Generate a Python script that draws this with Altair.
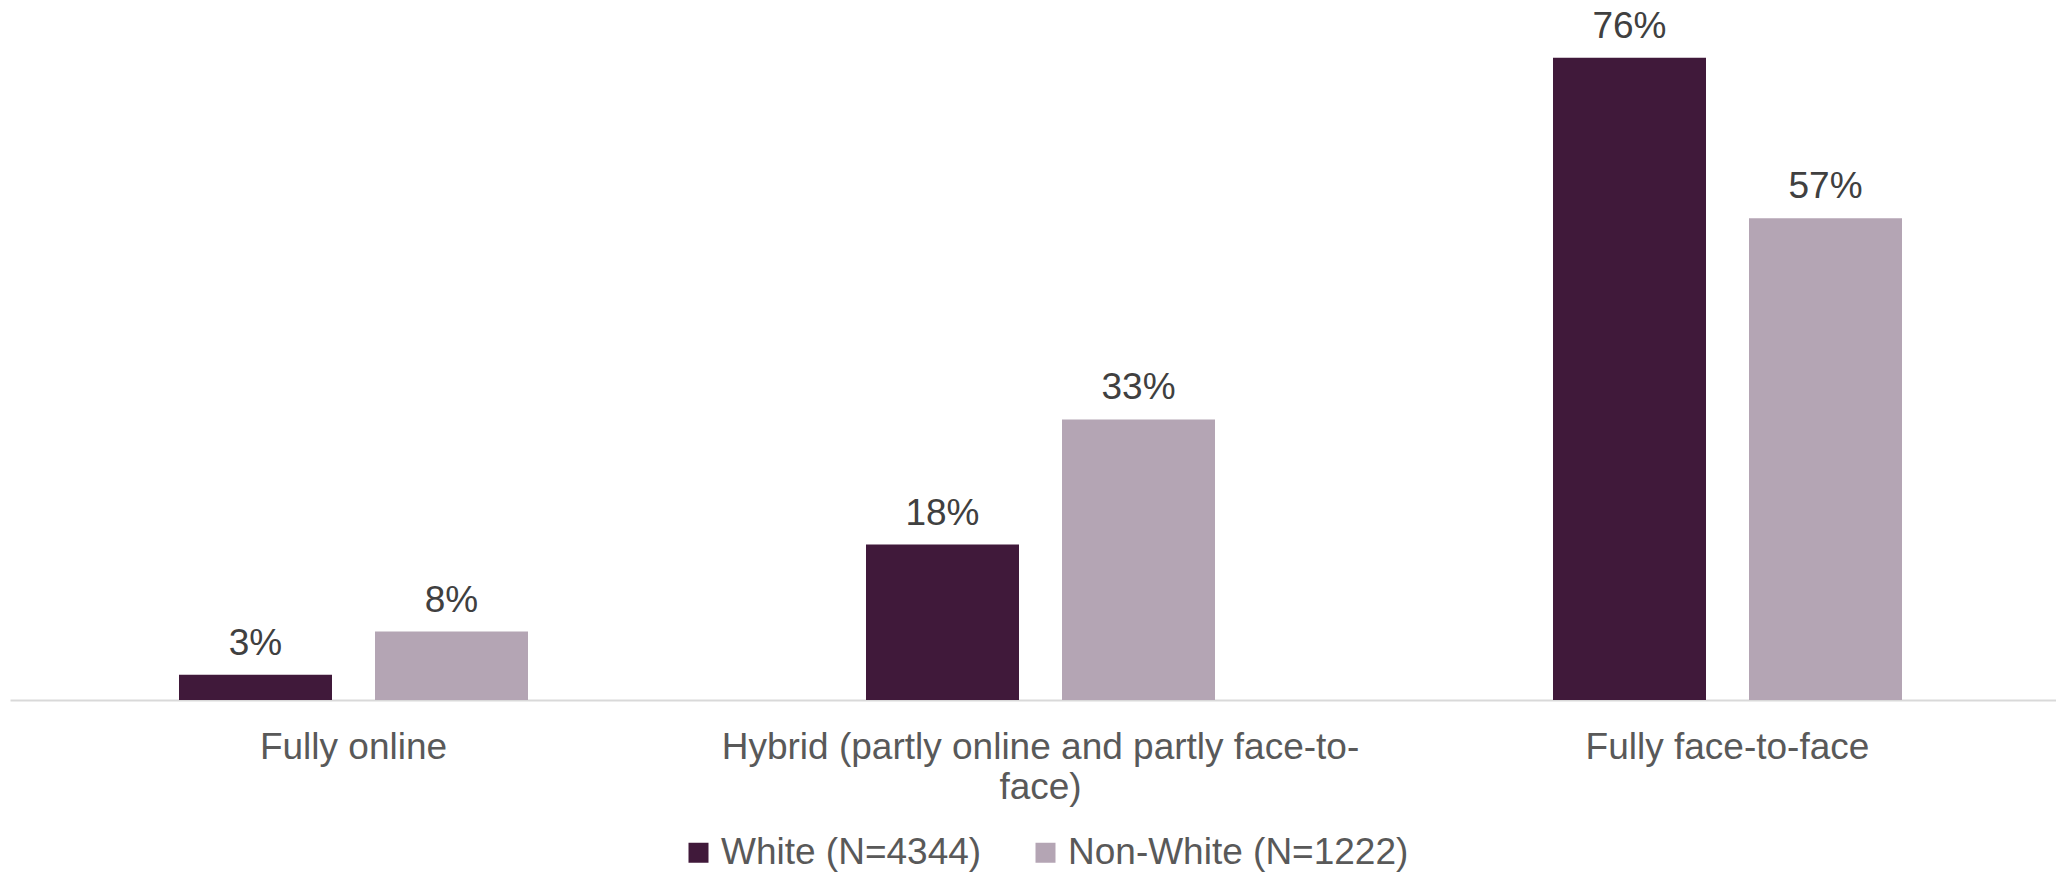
import altair as alt
import pandas as pd

categories = ["Fully online", "Hybrid (partly online and partly face-to-face)", "Fully face-to-face"]
hybrid_lines = ["Hybrid (partly online and partly face-to-", "face)"]
groups = ["White (N=4344)", "Non-White (N=1222)"]
white = [0.03, 0.184, 0.76]
non_white = [0.081, 0.332, 0.57]
colors = ["#40193A", "#B4A5B4"]

rows = []
for c, w, n in zip(categories, white, non_white):
    rows.append({"category": c, "group": groups[0], "value": w})
    rows.append({"category": c, "group": groups[1], "value": n})
df = pd.DataFrame(rows)

FONT = "Liberation Sans"
FS = 37

label_expr = (
    f"datum.label == '{categories[1]}' ? "
    f"['{hybrid_lines[0]}', '{hybrid_lines[1]}'] : datum.label"
)

x = alt.X(
    "category:N",
    sort=categories,
    scale=alt.Scale(range=[2, 2063], paddingInner=0, paddingOuter=0),
    axis=alt.Axis(
        title=None,
        labelAngle=0,
        ticks=False,
        domain=True,
        domainColor="#D9D9D9",
        domainWidth=2,
        labelFontSize=FS,
        labelColor="#595959",
        labelFont=FONT,
        labelPadding=29,
        labelLimit=900,
        labelLineHeight=40,
        labelExpr=label_expr,
    ),
)
xo = alt.XOffset(
    "group:N",
    sort=groups,
    scale=alt.Scale(domain=groups, paddingInner=0.2194, paddingOuter=0.8622),
)
y = alt.Y("value:Q", scale=alt.Scale(domain=[0, 0.8]), axis=None)

color = alt.Color(
    "group:N",
    sort=groups,
    scale=alt.Scale(domain=groups, range=colors),
    legend=alt.Legend(
        title=None,
        orient="none",
        direction="horizontal",
        legendX=672,
        legendY=810,
        symbolType="square",
        symbolSize=400,
        symbolStrokeWidth=0,
        labelFontSize=FS,
        labelFont=FONT,
        labelColor="#595959",
        labelOffset=4,
        labelLimit=0,
        columnPadding=45,
    ),
)

bars = alt.Chart(df).mark_bar().encode(x=x, xOffset=xo, y=y, color=color)
labels = alt.Chart(df).mark_text(
    dy=-20, baseline="alphabetic", fontSize=FS, color="#404040", font=FONT
).encode(x=x, xOffset=xo, y=y, text=alt.Text("value:Q", format=".0%"))

chart = (
    alt.layer(bars, labels)
    .properties(
        width=2048,
        height=676,
        autosize=alt.AutoSizeParams(type="none"),
        padding={"top": 16, "bottom": 172, "left": 0, "right": 0},
    )
    .configure_view(stroke=None)
)

chart.save("out.html", embed_options={"renderer": "svg", "actions": False})
